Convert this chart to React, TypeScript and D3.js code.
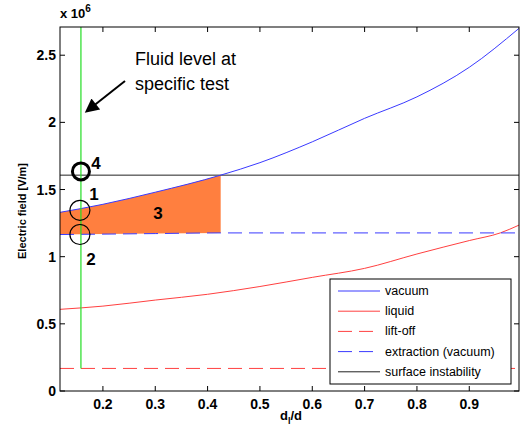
import * as d3 from "d3";

// d_l/d positions and field values (x 10^6 V/m)
const vacuumX = [0.118, 0.2, 0.3, 0.425, 0.5, 0.6, 0.7, 0.8, 0.9, 0.995];
const vacuumY = [1.33, 1.39, 1.48, 1.607, 1.70, 1.855, 2.03, 2.19, 2.41, 2.70];
const liquidX = [0.118, 0.2, 0.3, 0.4, 0.5, 0.6, 0.7, 0.8, 0.9, 0.96, 0.995];
const liquidY = [0.608, 0.632, 0.677, 0.72, 0.778, 0.846, 0.913, 1.02, 1.12, 1.178, 1.235];
const extractionX = [0.118, 0.2, 0.3, 0.425, 0.995];
const extractionY = [1.165, 1.168, 1.172, 1.177, 1.177];
const liftOff = 0.168;
const surfaceInstability = 1.607;
const fluidLevel = 0.158;
const regionEnd = 0.425;

const xTicks = [0.2, 0.3, 0.4, 0.5, 0.6, 0.7, 0.8, 0.9];
const yTicks = [0, 0.5, 1, 1.5, 2, 2.5];
const legendItems = [
  { label: "vacuum", color: "#3a3aff", dash: null },
  { label: "liquid", color: "#ff4040", dash: null },
  { label: "lift-off", color: "#ff4040", dash: "14,7" },
  { label: "extraction (vacuum)", color: "#3a3aff", dash: "14,7" },
  { label: "surface instability", color: "#222", dash: null },
];

const W = 520;
const H = 431;
const left = 60, right = 519, top = 27, bottom = 391;
const font = "Liberation Sans, Arial, sans-serif";

export default function App() {
  const x = d3.scaleLinear([0.118, 0.995], [left, right]);
  const y = d3.scaleLinear([0, 2.71], [bottom, top]);
  const line = d3.line<[number, number]>().x(d => x(d[0])).y(d => y(d[1])).curve(d3.curveMonotoneX);

  const vac = vacuumX.map((v, i) => [v, vacuumY[i]] as [number, number]);
  const liq = liquidX.map((v, i) => [v, liquidY[i]] as [number, number]);
  const ext = extractionX.map((v, i) => [v, extractionY[i]] as [number, number]);

  // region 3: between vacuum curve and extraction line up to regionEnd
  const regionPts = extractionX
    .map((v, i) => ({ x: v, lo: extractionY[i], hi: vacuumY[vacuumX.indexOf(v)] }))
    .filter(d => d.x <= regionEnd);
  const area = d3.area<{ x: number; lo: number; hi: number }>()
    .x(d => x(d.x)).y0(d => y(d.lo)).y1(d => y(d.hi)).curve(d3.curveMonotoneX);

  const fx = x(fluidLevel);
  const lx = 330, ly = 279, lw = 181, lh = 105;

  return (
    <svg width={W} height={H} style={{ position: "absolute", left: 0, top: 0, background: "#fff" }} fontFamily={font}>
      <defs>
        <marker id="arr" viewBox="0 0 10 10" refX="8" refY="5" markerWidth="8" markerHeight="7" orient="auto">
          <path d="M0,0 L10,5 L0,10 z" fill="#000" />
        </marker>
        <clipPath id="clip"><rect x={left} y={top} width={right - left} height={bottom - top} /></clipPath>
      </defs>
      <rect x={0} y={0} width={W} height={H} fill="#fff" />

      <g clipPath="url(#clip)">
        <path d={area(regionPts) ?? ""} fill="#ff7f3f" />
        <path d={line(liq) ?? ""} fill="none" stroke="#ff4040" strokeWidth={1} />
        <line x1={left} x2={right} y1={y(liftOff)} y2={y(liftOff)} stroke="#ff4040" strokeDasharray="14,7" />
        <path d={line(ext) ?? ""} fill="none" stroke="#3a3aff" strokeDasharray="14,7" />
        <line x1={left} x2={right} y1={y(surfaceInstability)} y2={y(surfaceInstability)} stroke="#222" />
        <path d={line(vac) ?? ""} fill="none" stroke="#3a3aff" strokeWidth={1} />
        <line x1={fx} x2={fx} y1={top} y2={y(liftOff)} stroke="#22dd22" strokeWidth={1.2} />
      </g>

      {/* circles and numbers */}
      <circle cx={fx} cy={y(1.635)} r={8.5} fill="none" stroke="#000" strokeWidth={3} />
      <circle cx={fx - 1} cy={y(1.345)} r={10} fill="none" stroke="#000" strokeWidth={1.2} />
      <circle cx={fx - 1} cy={y(1.165)} r={10} fill="none" stroke="#000" strokeWidth={1.2} />
      <g fontWeight="bold" fontSize={17} textAnchor="middle">
        <text x={96} y={y(1.635) - 2}>4</text>
        <text x={94} y={200}>1</text>
        <text x={158} y={219}>3</text>
        <text x={91} y={265}>2</text>
      </g>

      {/* annotation */}
      <g fontSize={18}>
        <text x={135} y={65}>Fluid level at</text>
        <text x={135} y={90}>specific test</text>
      </g>
      <line x1={125} y1={81} x2={87} y2={111} stroke="#000" strokeWidth={2} markerEnd="url(#arr)" />

      {/* axes box and ticks */}
      <rect x={left} y={top} width={right - left} height={bottom - top} fill="none" stroke="#000" />
      {xTicks.map(t => (
        <g key={"x" + t}>
          <line x1={x(t)} x2={x(t)} y1={bottom} y2={bottom - 5} stroke="#000" />
          <line x1={x(t)} x2={x(t)} y1={top} y2={top + 5} stroke="#000" />
          <text x={x(t)} y={bottom + 18} textAnchor="middle" fontSize={14} fontWeight="bold">{d3.format(".1f")(t)}</text>
        </g>
      ))}
      {yTicks.map(t => (
        <g key={"y" + t}>
          <line x1={left} x2={left + 5} y1={y(t)} y2={y(t)} stroke="#000" />
          <line x1={right} x2={right - 5} y1={y(t)} y2={y(t)} stroke="#000" />
          <text x={left - 4} y={y(t) + 5} textAnchor="end" fontSize={14} fontWeight="bold">{String(t)}</text>
        </g>
      ))}
      <text x={left} y={18} fontSize={13} fontWeight="bold">x 10<tspan dy={-6} fontSize={10}>6</tspan></text>
      <text transform={`translate(26,${(top + bottom) / 2 + 2}) rotate(-90)`} textAnchor="middle" fontSize={11} fontWeight="bold">Electric field [V/m]</text>
      <text x={280} y={420} fontSize={13} fontWeight="bold">d<tspan dy={4} fontSize={9}>l</tspan><tspan dy={-4}>/d</tspan></text>

      {/* legend */}
      <rect x={lx} y={ly} width={lw} height={lh} fill="#fff" stroke="#000" />
      {legendItems.map((d, i) => {
        const yy = ly + 12 + i * 20.2;
        return (
          <g key={d.label}>
            <line x1={lx + 8} x2={lx + 50} y1={yy} y2={yy} stroke={d.color} strokeDasharray={d.dash ?? undefined} />
            <text x={lx + 55} y={yy + 4} fontSize={12.5}>{d.label}</text>
          </g>
        );
      })}
    </svg>
  );
}
